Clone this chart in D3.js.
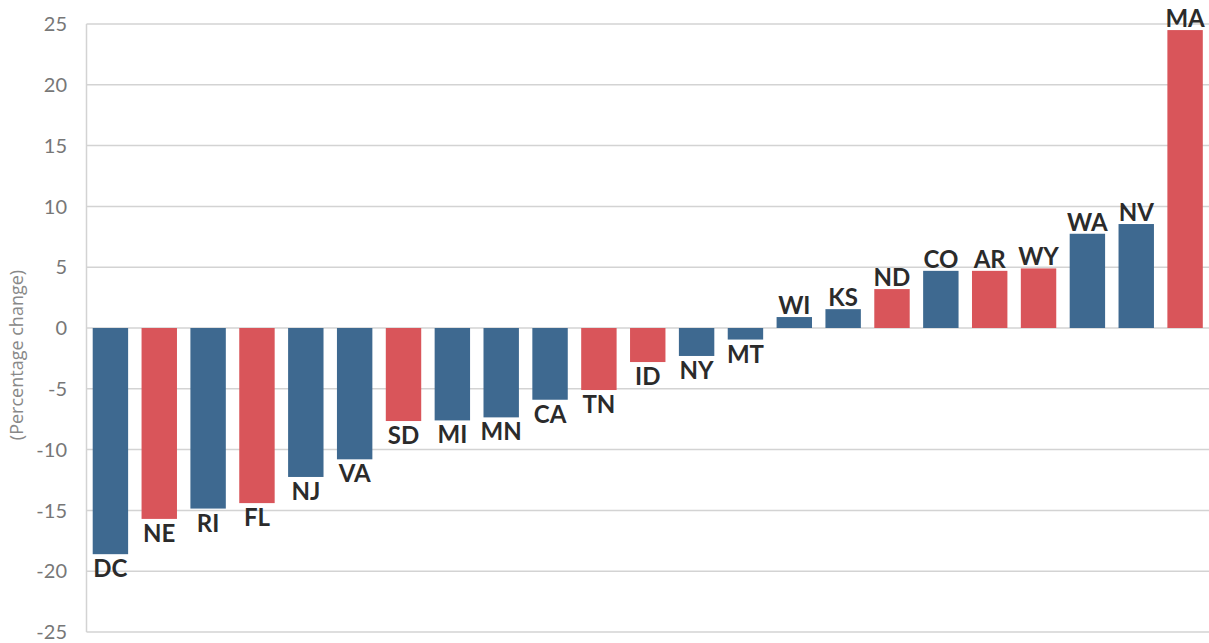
<!DOCTYPE html>
<html>
<head>
<meta charset="utf-8">
<script src="https://cdn.jsdelivr.net/npm/d3@7"></script>
<style>
  body { margin: 0; background: #fff; }
</style>
</head>
<body>
<div id="chart"></div>
<script>
const states = ["DC","NE","RI","FL","NJ","VA","SD","MI","MN","CA","TN","ID","NY","MT","WI","KS","ND","CO","AR","WY","WA","NV","MA"];
const changes = [-18.6,-15.7,-14.85,-14.4,-12.25,-10.8,-7.65,-7.6,-7.35,-5.9,-5.1,-2.8,-2.3,-0.95,0.9,1.55,3.2,4.7,4.7,4.9,7.75,8.55,24.5];
const groups = ["b","r","b","r","b","b","r","b","b","b","r","r","b","b","b","b","r","b","r","r","b","b","r"];
const yTicks = [-25,-20,-15,-10,-5,0,5,10,15,20,25];

const data = states.map((s, i) => ({state: s, value: changes[i], group: groups[i]}));
const colors = {b: "#3e6990", r: "#d9555a"};

const width = 1209, height = 643;
const svg = d3.select("#chart").append("svg")
    .attr("width", width)
    .attr("height", height);

const x = d3.scaleBand()
    .domain(states)
    .range([86.5, 1209])
    .paddingInner(0.275)
    .paddingOuter(0.127);

const y = d3.scaleLinear()
    .domain([-25, 25])
    .range([632, 24]);

// gridlines
svg.append("g")
    .selectAll("line")
    .data(yTicks)
    .enter().append("line")
    .attr("x1", 86.5)
    .attr("x2", width)
    .attr("y1", d => y(d))
    .attr("y2", d => y(d))
    .style("stroke", "#d3d3d3")
    .style("stroke-width", 1.5);

svg.append("line")
    .attr("x1", 86.5).attr("x2", 86.5)
    .attr("y1", y(25)).attr("y2", y(-25))
    .style("stroke", "#d3d3d3")
    .style("stroke-width", 1.5);

// tick labels
svg.append("g")
    .selectAll("text")
    .data(yTicks)
    .enter().append("text")
    .attr("x", 67)
    .attr("y", d => y(d))
    .attr("dy", "0.36em")
    .attr("text-anchor", "end")
    .style("font-family", "Lato, 'Open Sans', sans-serif")
    .style("font-size", "20px")
    .style("fill", "#777")
    .text(d => d);

svg.append("text")
    .attr("transform", "translate(23,355) rotate(-90)")
    .attr("text-anchor", "middle")
    .style("font-family", "'Open Sans', sans-serif")
    .style("font-size", "18px")
    .style("fill", "#888")
    .text("(Percentage change)");

// bars
svg.append("g")
    .selectAll("rect")
    .data(data)
    .enter().append("rect")
    .attr("x", d => x(d.state))
    .attr("width", x.bandwidth())
    .attr("y", d => y(Math.max(0, d.value)))
    .attr("height", d => Math.abs(y(d.value) - y(0)))
    .attr("fill", d => colors[d.group]);

// labels
svg.append("g")
    .selectAll("text")
    .data(data)
    .enter().append("text")
    .attr("x", d => x(d.state) + x.bandwidth() / 2)
    .attr("y", d => d.value >= 0 ? y(d.value) - 3 : y(d.value) + 23)
    .attr("text-anchor", "middle")
    .style("font-family", "Lato, 'Open Sans', sans-serif")
    .style("font-weight", "bold")
    .style("font-size", "24px")
    .style("fill", "#2b2b2b")
    .text(d => d.state);
</script>
</body>
</html>
